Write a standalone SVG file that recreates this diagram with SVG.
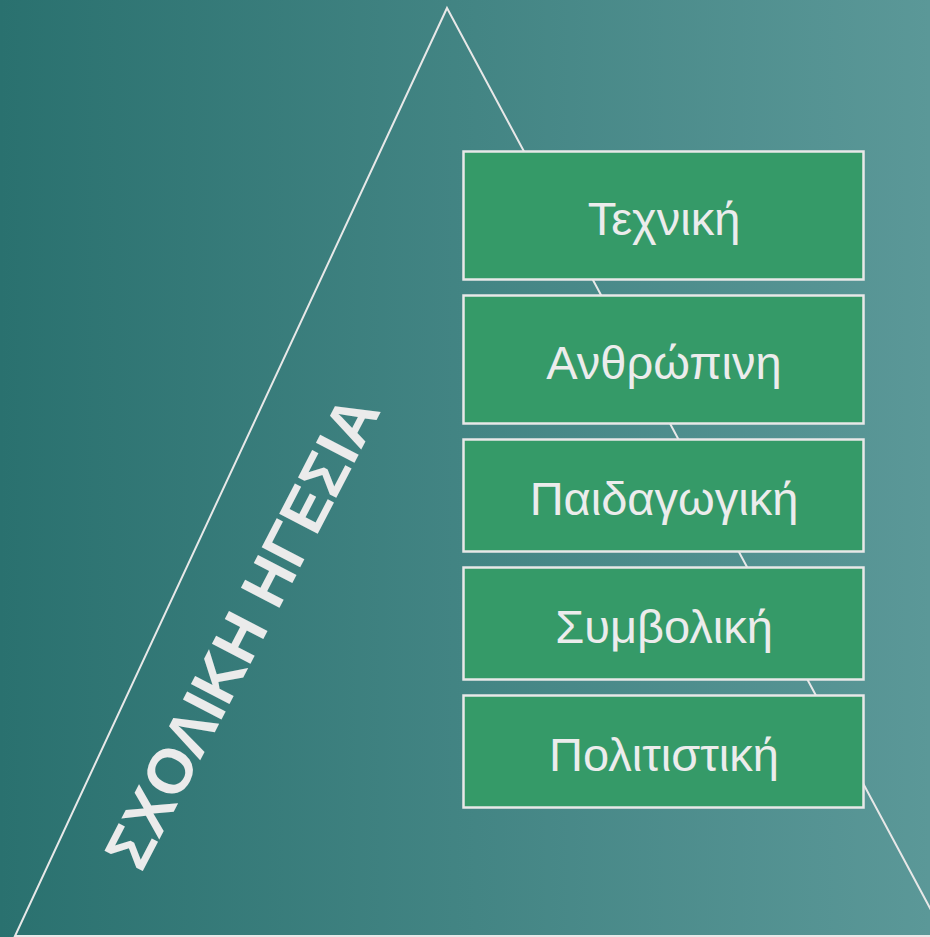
<svg xmlns="http://www.w3.org/2000/svg" width="930" height="937" viewBox="0 0 930 937">
  <defs>
    <linearGradient id="bg" x1="0" y1="0" x2="1" y2="0">
      <stop offset="0" stop-color="#2a716f"/>
      <stop offset="1" stop-color="#5b9898"/>
    </linearGradient>
    <style>
      .box { fill: #359a68; stroke: #e8e8e8; stroke-width: 2.5; }
      .lbl { font-family: "Liberation Sans", Arial, sans-serif; font-size: 47px; fill: #ececec; text-anchor: middle; }
      .tri { fill: none; stroke: #e8e8e8; stroke-width: 2; }
      .title { font-family: "Liberation Sans", Arial, sans-serif; font-weight: bold; font-size: 63px; fill: #ebebeb; text-anchor: middle; }
    </style>
  </defs>
  <rect width="930" height="937" fill="url(#bg)"/>
  <g id="connectors">
    <polygon class="tri" points="447,8 15,936 945,936"/>
  </g>
  <g id="title">
    <text class="title" transform="translate(242,632) rotate(-62.6)" x="0" y="22">ΣΧΟΛΙΚΗ ΗΓΕΣΙΑ</text>
  </g>
  <g id="n1">
    <rect class="box" x="463.5" y="151.5" width="400" height="128"/>
    <text class="lbl" x="664" y="235">Τεχνική</text>
  </g>
  <g id="n2">
    <rect class="box" x="463.5" y="295.5" width="400" height="128"/>
    <text class="lbl" x="664" y="379">Ανθρώπινη</text>
  </g>
  <g id="n3">
    <rect class="box" x="463.5" y="439.5" width="400" height="112"/>
    <text class="lbl" x="664" y="515">Παιδαγωγική</text>
  </g>
  <g id="n4">
    <rect class="box" x="463.5" y="567.5" width="400" height="112"/>
    <text class="lbl" x="664" y="643">Συμβολική</text>
  </g>
  <g id="n5">
    <rect class="box" x="463.5" y="695.5" width="400" height="112"/>
    <text class="lbl" x="664" y="771">Πολιτιστική</text>
  </g>
</svg>
